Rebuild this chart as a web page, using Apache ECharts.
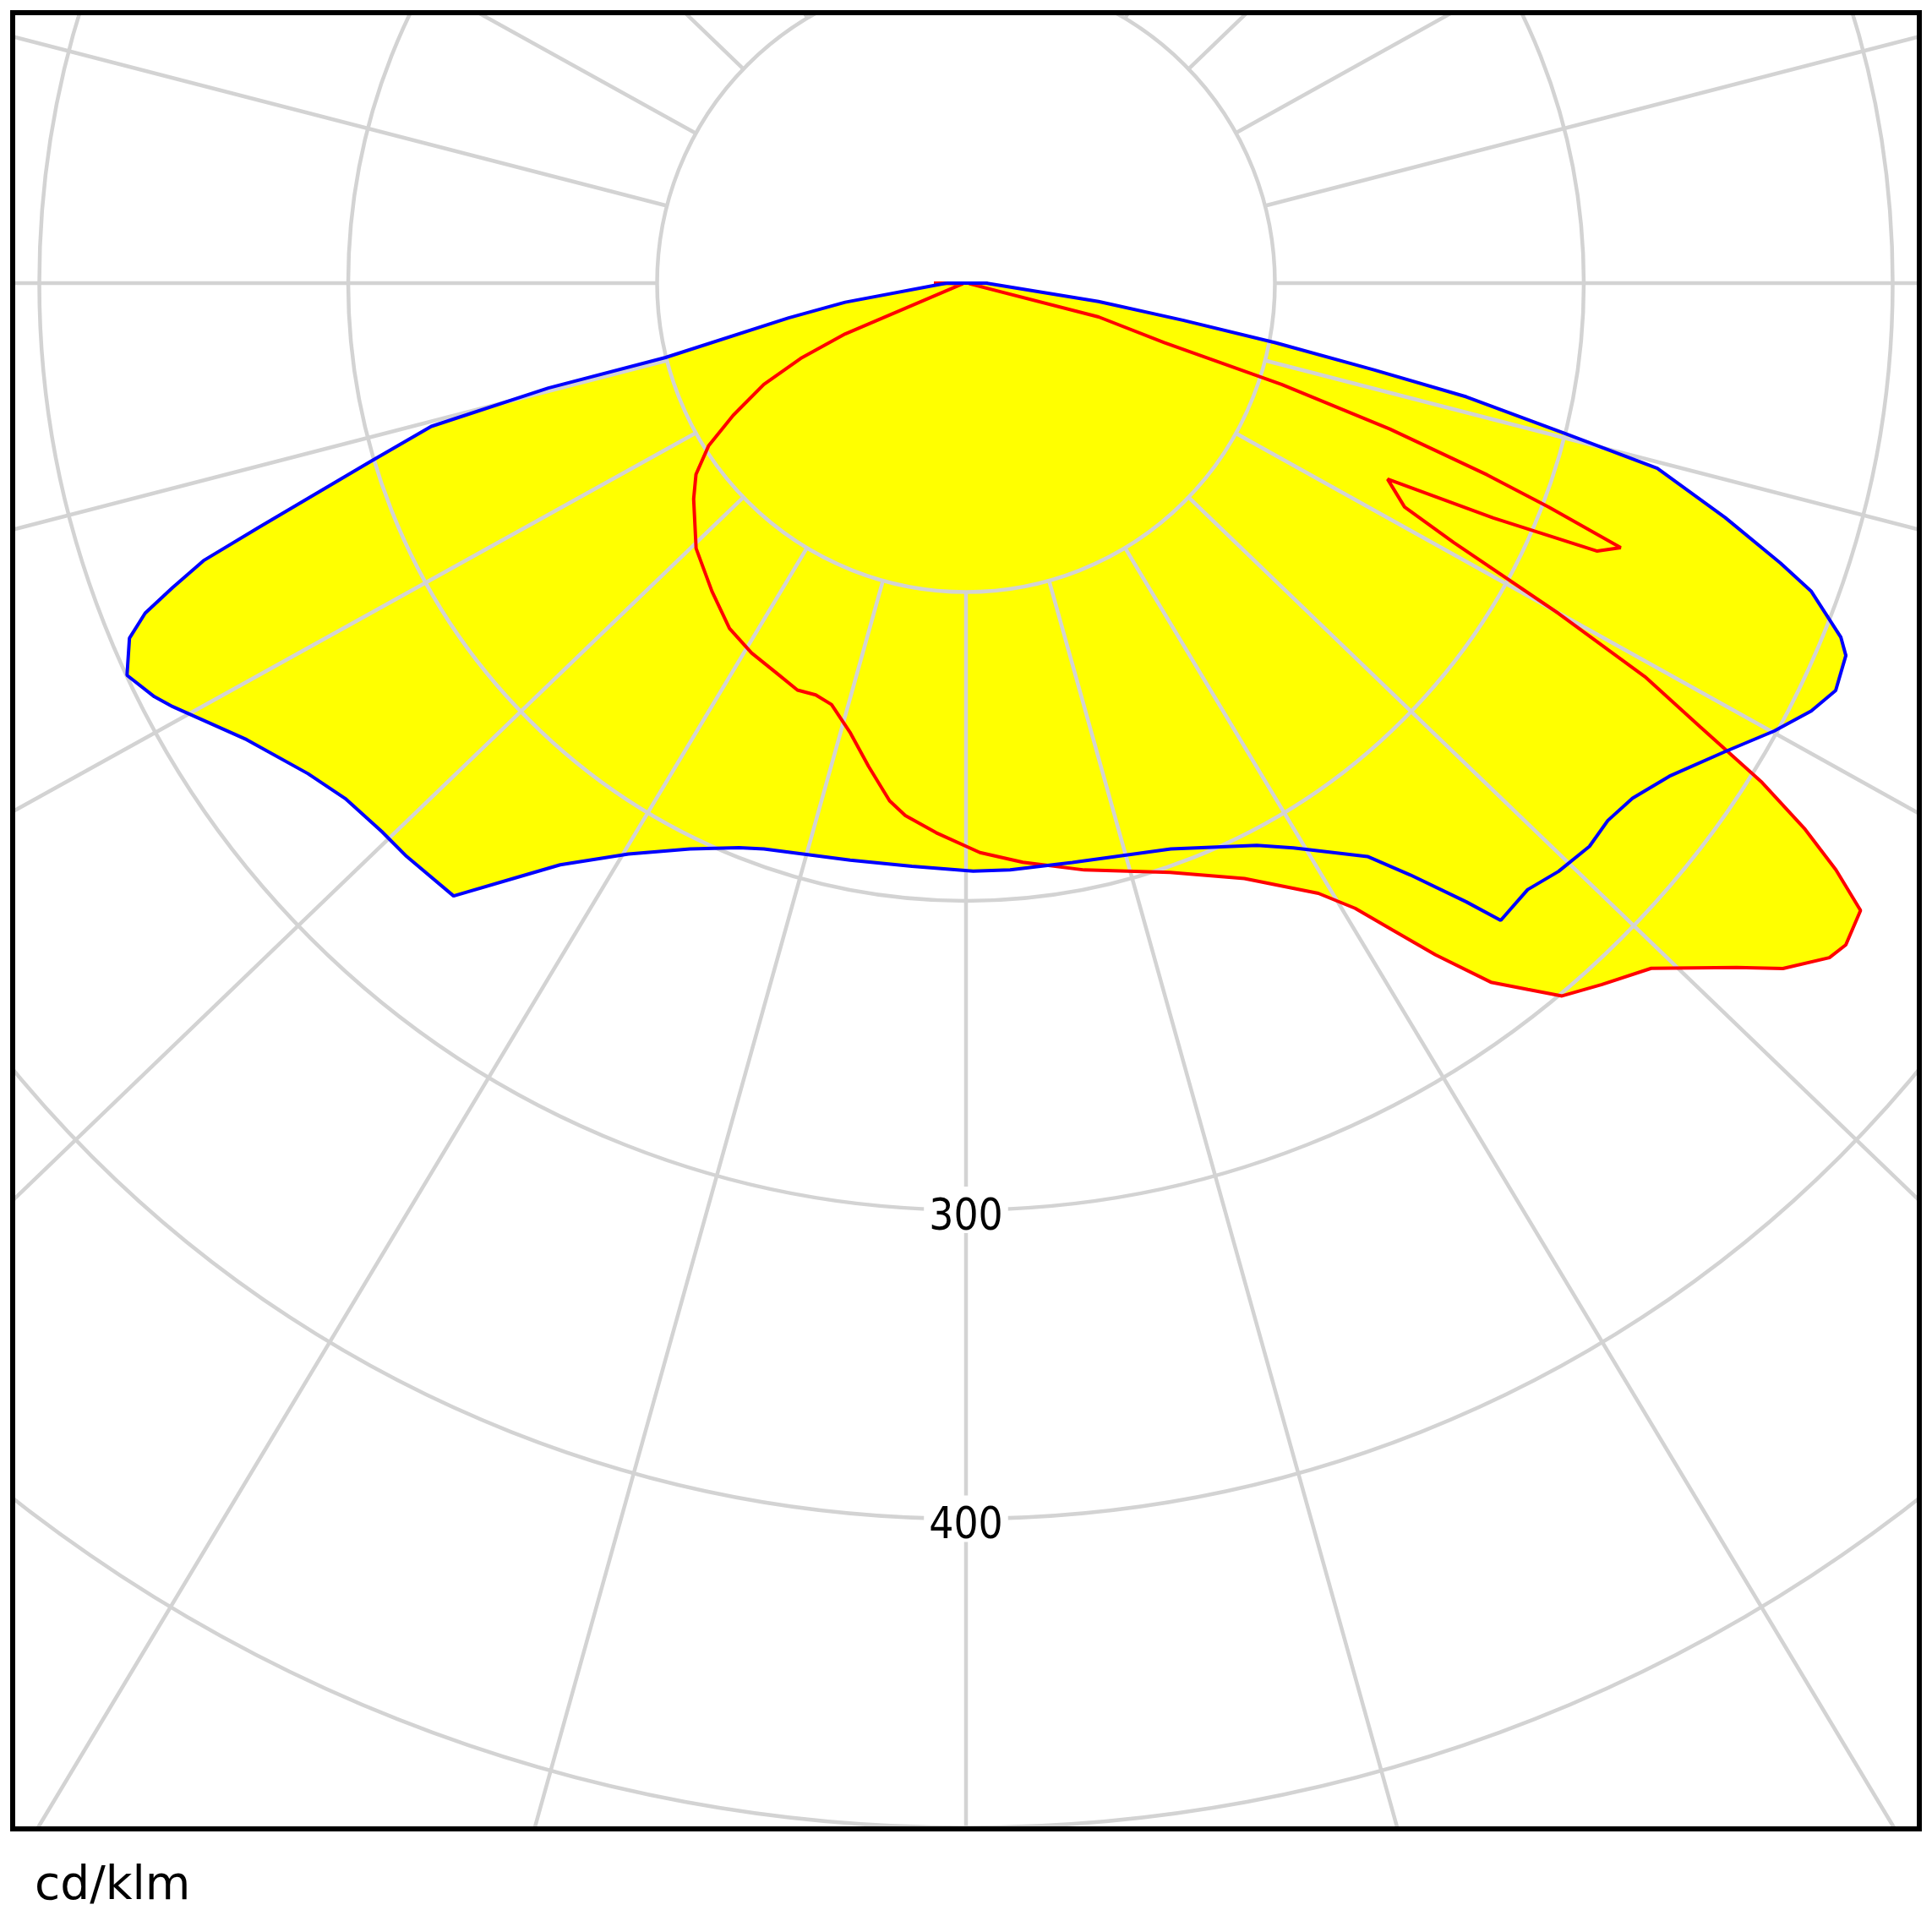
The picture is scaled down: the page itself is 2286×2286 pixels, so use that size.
<!DOCTYPE html>
<html>
<head>
<meta charset="utf-8">
<script src="https://cdn.jsdelivr.net/npm/echarts@6/dist/echarts.min.js"></script>
<style>
html, body { margin: 0; padding: 0; background: #fff; }
#chart { position: absolute; left: 0; top: 0; width: 2286px; height: 2286px; }
</style>
</head>
<body>
<div id="chart"></div>
<script>
// Luminous intensity distribution (cd/klm); angle measured from nadir, positive to the right
const unitLabel = 'cd/klm';
const radiusTicks = [300, 400];
// radial grid lines as drawn in the picture (degrees from nadir, counter-clockwise on screen)
const spokeAngles = [0, 15.6, 31.0, 46.1, 60.9, 75.5, 90, 104.5, 119.1, 133.9, 149.0, 164.4, 180,
  195.6, 210.9, 226.1, 241.0, 255.5, 270, 284.5, 299.0, 313.9, 329.0, 344.4];

// C0-C180 plane (blue)
const blueAngles = [-90, -81, -78.9, -76.1, -75.9, -75.0, -73.3, -70.95, -70.0, -69.0, -68.1, -67.0, -64.95, -63.0, -61.9, -57.6, -53.3, -50.3, -46.8, -44.3, -39.9, -37.05, -34.9, -30.6, -26.0, -21.9, -19.65, -11.35, -5.3, 0.7, 4.3, 10.4, 19.9, 27.35, 30.1, 35.0, 36.9, 38.96, 40.0, 42.8, 45.2, 47.9, 50.06, 52.3, 54.97, 58.3, 61.0, 63.15, 64.9, 67.06, 67.97, 69.96, 71.03, 72.84, 75.0, 75.9, 77.2, 78.0, 79.1, 80.3, 82.1, 90];
const blueValues = [6.3, 39.6, 58.5, 100.2, 139.4, 179.2, 201.6, 242.2, 262.7, 275.2, 286.4, 294.2, 299.8, 294.9, 291.1, 275.8, 265.7, 261.2, 259.4, 259.3, 258.6, 241.0, 229.6, 214.7, 203.8, 197.0, 194.5, 190.5, 189.6, 190.4, 190.5, 190.7, 194.8, 204.9, 211.3, 226.6, 239.6, 257.6, 269.3, 267.6, 270.3, 272.0, 271.0, 272.7, 278.1, 288.7, 299.1, 306.7, 310.9, 309.3, 305.5, 291.3, 278.8, 257.2, 231.7, 199.9, 166.1, 135.0, 102.0, 71.2, 43.3, 6.5];

// C90-C270 plane (red)
const redAngles = [-90, -80, -67.2, -65.5, -63.4, -60.4, -57.7, -54.7, -51.6, -45.5, -39.5, -34.4, -30.1, -26.0, -22.5, -20.05, -17.7, -14.4, -11.4, -8.4, -6.5, -3.1, 1.4, 5.6, 11.4, 19.1, 25.06, 30.0, 31.9, 33.4, 34.95, 36.9, 38.5, 39.9, 42.2, 45.0, 48.4, 50.0, 52.0, 53.05, 54.96, 56.0, 56.94, 57.9, 58.85, 59.9, 60.86, 62.0, 62.96, 65.07, 65.99, 67.0, 68.0, 68.98, 69.8, 71.0, 72.2, 73.3, 75.7, 80, 90];
const redValues = [10.4, 1, 42.4, 58.8, 73.2, 86.7, 98.6, 107.1, 112.5, 122.5, 129.3, 135.5, 138.4, 140.3, 142.6, 141.9, 143.2, 150.4, 159.6, 169.4, 173.5, 178.2, 184.4, 188.4, 193.8, 201.9, 212.8, 228.1, 238.4, 250.9, 265.3, 283.0, 292.2, 300.8, 306.5, 313.7, 333.7, 345.2, 354.7, 356.4, 353.7, 339.7, 324.1, 304.2, 277.8, 254.0, 219.7, 178.8, 159.4, 150.5, 186.9, 222.0, 228.6, 202.1, 179.8, 145.1, 107.3, 67.0, 44.3, 1, 7];

function toPolar(angles, values) {
  const d = angles.map((a, i) => [values[i], a < 0 ? a + 360 : a]);
  d.push(d[0].slice());
  return d;
}
const blueData = toPolar(blueAngles, blueValues);
const redData = toPolar(redAngles, redValues);

const CX = 1143, CY = 335;
const PX_PER_UNIT = 3.655;
const RMAX = 600;
const gridColor = '#d3d3d3';
const gridWidth = 4.5;

const chart = echarts.init(document.getElementById('chart'), null, { renderer: 'canvas' });
const option = {
  backgroundColor: '#ffffff',
  animation: false,
  title: {
    text: unitLabel, left: 41, top: 2205, padding: 0, z: 200,
    textStyle: { fontSize: 55, fontWeight: 'normal', color: '#000', fontFamily: 'DejaVu Sans' }
  },
  polar: [
    { center: [CX, CY], radius: [0, RMAX * PX_PER_UNIT] },
    { center: [CX, CY], radius: [100 * PX_PER_UNIT, RMAX * PX_PER_UNIT] }
  ],
  angleAxis: [
    { polarIndex: 0, type: 'value', min: 0, max: 360, interval: 15, startAngle: 270, clockwise: false, z: 5,
      axisLine: { show: false }, axisTick: { show: false }, axisLabel: { show: false }, splitLine: { show: false } },
    { polarIndex: 1, type: 'value', min: 0, max: 360, interval: 15, startAngle: 270, clockwise: false, z: 5,
      axisLine: { show: false },
      axisTick: { show: false, customValues: spokeAngles },
      axisLabel: { show: false },
      splitLine: { show: true, lineStyle: { color: gridColor, width: gridWidth } } }
  ],
  radiusAxis: [
    { polarIndex: 0, type: 'value', min: 0, max: RMAX, interval: 100, z: 5,
      axisLine: { show: false }, axisTick: { show: false }, axisLabel: { show: false },
      splitLine: { show: true, lineStyle: { color: gridColor, width: gridWidth } } },
    { polarIndex: 1, type: 'value', min: 100, max: RMAX, interval: 100, z: 5,
      axisLine: { show: false }, axisTick: { show: false }, splitLine: { show: false },
      axisLabel: {
        show: true, customValues: radiusTicks, margin: 0, align: 'center', verticalAlign: 'middle',
        fontSize: 51, lineHeight: 20, color: '#000', fontFamily: 'DejaVu Sans Condensed, DejaVu Sans',
        backgroundColor: '#ffffff', padding: [6, 6, 9, 6],
        formatter: v => '\n' + String(v)
      } }
  ],
  series: [
    { type: 'line', coordinateSystem: 'polar', polarIndex: 0, data: blueData, symbol: 'none', z: 1, silent: true,
      lineStyle: { width: 0, opacity: 0 }, areaStyle: { color: '#ffff00', opacity: 1 } },
    { type: 'line', coordinateSystem: 'polar', polarIndex: 0, data: redData, symbol: 'none', z: 1, silent: true,
      lineStyle: { width: 0, opacity: 0 }, areaStyle: { color: '#ffff00', opacity: 1 } },
    { type: 'line', coordinateSystem: 'polar', polarIndex: 0, data: redData, symbol: 'none', z: 10,
      lineStyle: { color: '#ff0000', width: 4 } },
    { type: 'line', coordinateSystem: 'polar', polarIndex: 0, data: blueData, symbol: 'none', z: 11,
      lineStyle: { color: '#0000ff', width: 4 } }
  ],
  graphic: [
    { type: 'rect', z: 100, silent: true, shape: { x: 0, y: 0, width: 2286, height: 13 }, style: { fill: '#fff' } },
    { type: 'rect', z: 100, silent: true, shape: { x: 0, y: 0, width: 13, height: 2286 }, style: { fill: '#fff' } },
    { type: 'rect', z: 100, silent: true, shape: { x: 2273, y: 0, width: 13, height: 2286 }, style: { fill: '#fff' } },
    { type: 'rect', z: 100, silent: true, shape: { x: 0, y: 2166, width: 2286, height: 120 }, style: { fill: '#fff' } },
    { type: 'rect', z: 101, silent: true, shape: { x: 15, y: 15, width: 2256, height: 2149 },
      style: { fill: 'rgba(0,0,0,0)', stroke: '#000', lineWidth: 6 } }
  ]
};
chart.setOption(option);
</script>
</body>
</html>
